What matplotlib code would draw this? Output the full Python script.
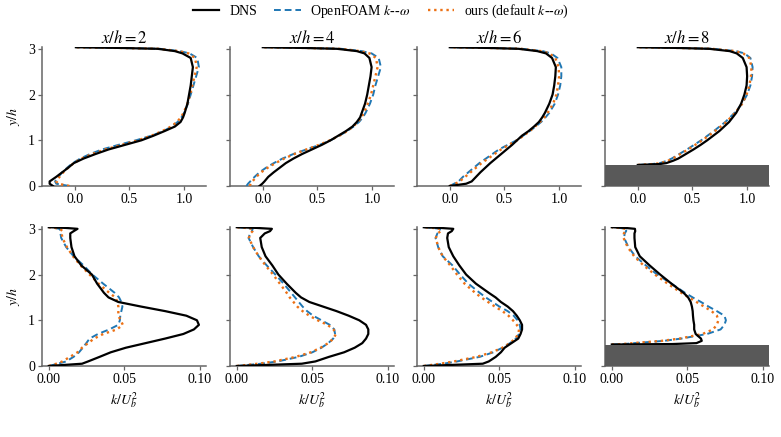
import matplotlib
matplotlib.use("Agg")
import matplotlib.pyplot as plt

plt.rcParams['font.family'] = ['Liberation Serif', 'DejaVu Serif']
plt.rcParams['mathtext.fontset'] = 'stix'
plt.rcParams['font.size'] = 10

# stations x/h
STATIONS = [2, 4, 6, 8]
HILL_U = 0.46   # hill surface height at x/h=8 (top row)
HILL_K = 0.47   # hill surface height at x/h=8 (bottom row)

# y/h grids
Y = [0.0, 0.05, 0.1, 0.2, 0.3, 0.4, 0.5, 0.6, 0.7, 0.8, 0.9, 1.0, 1.1, 1.2,
     1.3, 1.4, 1.5, 1.6, 1.8, 2.0, 2.2, 2.4, 2.6, 2.8, 2.9, 2.95, 3.0, 3.02,
     3.035]
Y8_U = [0.46, 0.47, 0.48, 0.5, 0.55, 0.6, 0.7, 0.8, 0.9, 1.0, 1.2, 1.4, 1.6,
        1.8, 2.0, 2.2, 2.4, 2.6, 2.8, 2.9, 2.95, 3.0, 3.02, 3.035]
Y8_K = [0.47, 0.48, 0.5, 0.55, 0.6, 0.7, 0.8, 0.9, 1.0, 1.1, 1.2, 1.3, 1.4,
        1.5, 1.6, 1.8, 2.0, 2.2, 2.4, 2.6, 2.8, 2.9, 2.95, 3.0, 3.02, 3.035]

# mean velocity U/Ub
u2_dns = [-0.20, -0.23, -0.23, -0.17, -0.115, -0.06, -0.01, 0.08, 0.19, 0.31,
          0.46, 0.61, 0.72, 0.82, 0.915, 0.967, 0.99, 1.005, 1.03, 1.045,
          1.06, 1.07, 1.08, 1.06, 0.985, 0.915, 0.76, 0.40, 0.01]
u2_of = [-0.05, -0.17, -0.18, -0.15, -0.115, -0.07, -0.02, 0.05, 0.14, 0.25,
         0.40, 0.56, 0.70, 0.81, 0.885, 0.94, 0.975, 1.0, 1.035, 1.06, 1.085,
         1.11, 1.135, 1.12, 1.05, 0.96, 0.78, 0.42, 0.01]
u2_ours = [-0.05, -0.15, -0.17, -0.14, -0.105, -0.06, -0.01, 0.06, 0.16,
           0.28, 0.43, 0.58, 0.70, 0.80, 0.88, 0.935, 0.97, 0.995, 1.03,
           1.055, 1.075, 1.095, 1.115, 1.10, 1.04, 0.95, 0.77, 0.41, 0.01]

u4_dns = [-0.03, -0.005, 0.015, 0.05, 0.10, 0.155, 0.21, 0.28, 0.36, 0.45,
          0.54, 0.62, 0.69, 0.76, 0.82, 0.86, 0.89, 0.905, 0.935, 0.955,
          0.97, 0.985, 0.995, 0.975, 0.93, 0.86, 0.68, 0.36, 0.0]
u4_of = [-0.15, -0.135, -0.115, -0.075, -0.03, 0.03, 0.10, 0.18, 0.28, 0.40,
         0.52, 0.62, 0.70, 0.77, 0.83, 0.88, 0.915, 0.94, 0.98, 1.01, 1.03,
         1.055, 1.08, 1.06, 0.995, 0.905, 0.72, 0.38, 0.0]
u4_ours = [-0.12, -0.11, -0.095, -0.06, -0.015, 0.045, 0.115, 0.195, 0.29,
           0.40, 0.515, 0.615, 0.70, 0.77, 0.825, 0.87, 0.90, 0.925, 0.96,
           0.99, 1.01, 1.03, 1.05, 1.035, 0.975, 0.89, 0.71, 0.37, 0.0]

u6_dns = [0.0, 0.15, 0.20, 0.24, 0.28, 0.325, 0.37, 0.42, 0.47, 0.52, 0.57,
          0.615, 0.66, 0.72, 0.77, 0.815, 0.845, 0.87, 0.91, 0.94, 0.955,
          0.965, 0.97, 0.935, 0.88, 0.80, 0.63, 0.34, 0.0]
u6_of = [0.0, 0.04, 0.08, 0.12, 0.17, 0.22, 0.27, 0.33, 0.39, 0.45, 0.53,
         0.61, 0.67, 0.73, 0.785, 0.835, 0.875, 0.91, 0.96, 0.99, 1.01, 1.02,
         1.02, 0.985, 0.925, 0.85, 0.66, 0.36, 0.0]
u6_ours = [0.0, 0.05, 0.09, 0.14, 0.19, 0.24, 0.29, 0.35, 0.41, 0.47, 0.54,
           0.615, 0.675, 0.73, 0.78, 0.825, 0.865, 0.895, 0.945, 0.975, 0.99,
           1.0, 0.995, 0.965, 0.91, 0.835, 0.65, 0.35, 0.0]

u8_dns = [0.0, 0.10, 0.20, 0.26, 0.32, 0.37, 0.44, 0.51, 0.575, 0.635, 0.745,
          0.835, 0.90, 0.945, 0.975, 0.995, 1.0, 0.995, 0.96, 0.905, 0.84,
          0.655, 0.35, 0.0]
u8_of = [0.0, 0.06, 0.13, 0.20, 0.265, 0.31, 0.38, 0.45, 0.515, 0.58, 0.695,
         0.80, 0.885, 0.955, 1.0, 1.03, 1.045, 1.05, 1.03, 0.975, 0.90, 0.69,
         0.37, 0.0]
u8_ours = [0.0, 0.07, 0.14, 0.21, 0.275, 0.32, 0.39, 0.46, 0.525, 0.59,
           0.705, 0.81, 0.89, 0.955, 0.995, 1.02, 1.035, 1.04, 1.02, 0.965,
           0.89, 0.68, 0.36, 0.0]

# turbulent kinetic energy k/Ub^2
k2_dns = [0.0, 0.022, 0.026, 0.0336, 0.041, 0.051, 0.064, 0.077, 0.089,
          0.096, 0.0993, 0.098, 0.091, 0.077, 0.061, 0.046, 0.0395, 0.0365,
          0.032, 0.0285, 0.0215, 0.017, 0.015, 0.0142, 0.0142, 0.0165, 0.019,
          0.011, 0.0]
k2_of = [0.0, 0.006, 0.0115, 0.0164, 0.020, 0.0225, 0.0248, 0.027, 0.0325,
         0.040, 0.046, 0.047, 0.0473, 0.048, 0.0487, 0.048, 0.0465, 0.0436,
         0.036, 0.0288, 0.023, 0.0164, 0.0115, 0.0082, 0.0077, 0.008, 0.007,
         0.004, 0.0]
k2_ours = [0.0, 0.005, 0.009, 0.014, 0.019, 0.022, 0.026, 0.030, 0.036,
           0.045, 0.049, 0.0475, 0.046, 0.046, 0.046, 0.0455, 0.044, 0.040,
           0.033, 0.027, 0.021, 0.016, 0.012, 0.009, 0.0085, 0.009, 0.0075,
           0.004, 0.0]

k4_dns = [0.0, 0.043, 0.052, 0.061, 0.071, 0.078, 0.083, 0.0855, 0.087,
          0.087, 0.0855, 0.081, 0.074, 0.066, 0.057, 0.048, 0.0425, 0.039,
          0.033, 0.0275, 0.0235, 0.019, 0.0165, 0.0155, 0.0185, 0.022, 0.0232,
          0.013, 0.0]
k4_of = [0.0, 0.016, 0.027, 0.041, 0.050, 0.056, 0.0605, 0.0638, 0.065,
         0.0645, 0.0615, 0.056, 0.0505, 0.0465, 0.0435, 0.041, 0.0385, 0.036,
         0.031, 0.0255, 0.0198, 0.0145, 0.0108, 0.0078, 0.0088, 0.010, 0.0105,
         0.006, 0.0]
k4_ours = [0.0, 0.014, 0.025, 0.039, 0.049, 0.0555, 0.0605, 0.064, 0.0655,
           0.064, 0.060, 0.0535, 0.048, 0.0435, 0.040, 0.0375, 0.035, 0.033,
           0.0285, 0.024, 0.019, 0.0145, 0.0108, 0.008, 0.009, 0.0105, 0.011,
           0.006, 0.0]

k6_dns = [0.0, 0.039, 0.043, 0.0476, 0.051, 0.0535, 0.058, 0.0625, 0.064,
          0.065, 0.065, 0.0635, 0.0615, 0.059, 0.0555, 0.051, 0.0475, 0.043,
          0.0345, 0.028, 0.0235, 0.0195, 0.0165, 0.0155, 0.016, 0.0185,
          0.0195, 0.011, 0.0]
k6_of = [0.0, 0.013, 0.022, 0.037, 0.046, 0.052, 0.057, 0.061, 0.063, 0.064,
         0.0635, 0.062, 0.0595, 0.0555, 0.050, 0.0455, 0.041, 0.037, 0.0295,
         0.024, 0.019, 0.0125, 0.0095, 0.0078, 0.009, 0.011, 0.0105, 0.006,
         0.0]
k6_ours = [0.0, 0.011, 0.020, 0.035, 0.045, 0.052, 0.057, 0.0605, 0.0625,
           0.063, 0.0615, 0.059, 0.056, 0.052, 0.047, 0.0425, 0.038, 0.034,
           0.027, 0.022, 0.0175, 0.0125, 0.0095, 0.008, 0.009, 0.0115, 0.011,
           0.006, 0.0]

k8_dns = [0.0, 0.040, 0.056, 0.0595, 0.059, 0.0555, 0.0545, 0.0545, 0.054,
          0.0537, 0.0535, 0.053, 0.0522, 0.0505, 0.0475, 0.0395, 0.032, 0.025,
          0.0185, 0.0155, 0.015, 0.015, 0.0155, 0.0153, 0.009, 0.0]
k8_of = [0.0, 0.008, 0.015, 0.0345, 0.046, 0.063, 0.072, 0.0745, 0.0755,
         0.0745, 0.0695, 0.064, 0.059, 0.0535, 0.0485, 0.0395, 0.030, 0.0225,
         0.0155, 0.011, 0.0082, 0.0085, 0.0095, 0.0095, 0.005, 0.0]
k8_ours = [0.0, 0.007, 0.014, 0.033, 0.045, 0.060, 0.067, 0.0695, 0.0705,
           0.0695, 0.066, 0.061, 0.056, 0.051, 0.046, 0.037, 0.0285, 0.021,
           0.0148, 0.0105, 0.0078, 0.008, 0.009, 0.009, 0.005, 0.0]

U_PROFILES = [(Y, u2_dns, u2_of, u2_ours), (Y, u4_dns, u4_of, u4_ours),
              (Y, u6_dns, u6_of, u6_ours), (Y8_U, u8_dns, u8_of, u8_ours)]
K_PROFILES = [(Y, k2_dns, k2_of, k2_ours), (Y, k4_dns, k4_of, k4_ours),
              (Y, k6_dns, k6_of, k6_ours), (Y8_K, k8_dns, k8_of, k8_ours)]

LABELS = ['DNS', r'OpenFOAM $k$--$\omega$', r'ours (default $k$--$\omega$)']
BLUE = '#1f77b4'
ORANGE = '#ec7014'
SPINE = '0.4'


def style_axis(ax, first):
    for s in ['top', 'right']:
        ax.spines[s].set_visible(False)
    for s in ['left', 'bottom']:
        ax.spines[s].set_color(SPINE)
        ax.spines[s].set_linewidth(1.1)
    ax.tick_params(color=SPINE, length=3, width=0.9, pad=2)
    ax.set_ylim(0, 3.04)
    ax.set_yticks([0, 1, 2, 3])
    if first:
        ax.set_ylabel(r'$y/h$', labelpad=4)
    else:
        ax.set_yticklabels([])


def draw_profiles(ax, prof):
    y, dns, of, ours = prof
    l1, = ax.plot(dns, y, color='black', lw=1.6, zorder=4)
    l2, = ax.plot(of, y, color=BLUE, lw=1.4, ls=(0, (3.5, 2)), zorder=3)
    l3, = ax.plot(ours, y, color=ORANGE, lw=1.7, ls=(0, (1, 1.6)), zorder=3)
    return l1, l2, l3


fig = plt.figure(figsize=(7.81, 4.37), dpi=100)
lefts = [42, 230, 417, 605]
W = 164 / 781

handles = None
for i, st in enumerate(STATIONS):
    left = lefts[i] / 781
    # top row: mean velocity
    ax = fig.add_axes([left, 1 - 186 / 437, W, 139 / 437])
    handles = draw_profiles(ax, U_PROFILES[i])
    ax.set_xlim(-0.3, 1.2)
    ax.set_xticks([0, 0.5, 1.0])
    ax.set_xticklabels(['0.0', '0.5', '1.0'])
    style_axis(ax, i == 0)
    ax.set_title(r'$x/h = %d$' % st, pad=3)
    if st == 8:
        ax.axhspan(0, HILL_U, color='#595959', zorder=5, lw=0)

    # bottom row: turbulent kinetic energy
    ax = fig.add_axes([left, 1 - 366 / 437, W, 139 / 437])
    draw_profiles(ax, K_PROFILES[i])
    ax.set_xlim(-0.0045, 0.104)
    ax.set_xticks([0, 0.05, 0.1])
    ax.set_xticklabels(['0.00', '0.05', '0.10'])
    style_axis(ax, i == 0)
    ax.set_xlabel(r'$k/U_b^2$', labelpad=3)
    if st == 8:
        ax.axhspan(0, HILL_K, color='#595959', zorder=5, lw=0)

fig.legend(handles, LABELS, loc='upper center', ncol=3, frameon=False,
           bbox_to_anchor=(381 / 781, 1.022), handlelength=1.9,
           columnspacing=1.25, handletextpad=0.7)

fig.savefig('out.png', dpi=100)
